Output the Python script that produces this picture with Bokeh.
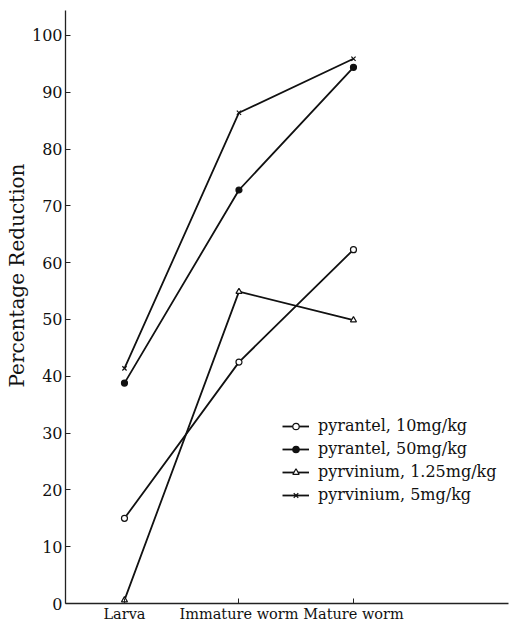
from bokeh.plotting import figure
from bokeh.models import Range1d, FixedTicker, Legend, LegendItem, Title
from bokeh.embed import file_html
from bokeh.resources import INLINE

categories = ["Larva", "Immature worm", "Mature worm"]
x_pos = [0, 1, 2]
pyrantel_10 = [15, 42.5, 62.3]
pyrantel_50 = [38.8, 72.8, 94.4]
pyrvinium_125 = [0.6, 54.9, 49.9]
pyrvinium_5 = [41.4, 86.4, 95.9]
y_ticks = [0, 10, 20, 30, 40, 50, 60, 70, 80, 90, 100]

SERIF = "DejaVu Serif"

p = figure(width=509, height=624, output_backend="svg", toolbar_location=None,
           x_range=Range1d(-0.515, 3.354), y_range=Range1d(0, 104.4),
           min_border_left=65, min_border_top=10, min_border_bottom=0, min_border_right=1)
p.outline_line_color = None
p.xgrid.visible = False
p.ygrid.visible = False
p.background_fill_color = "white"
p.border_fill_color = "white"

p.xaxis.ticker = FixedTicker(ticks=x_pos)
p.xaxis.major_label_overrides = {x: c for x, c in zip(x_pos, categories)}
p.yaxis.ticker = FixedTicker(ticks=y_ticks)
for ax in (p.xaxis, p.yaxis):
    ax.axis_line_color = "#222222"
    ax.axis_line_width = 1.3
    ax.major_tick_in = 5
    ax.major_tick_out = 0
    ax.minor_tick_line_color = None
    ax.major_tick_line_color = "#222222"
    ax.major_label_text_font = SERIF
    ax.major_label_text_color = "#111111"
p.xaxis.major_label_text_font_size = "14.5px"
p.xaxis.major_label_standoff = 2
p.yaxis.major_label_text_font_size = "16px"
p.yaxis.major_label_standoff = 3

ylab = Title(text="Percentage Reduction", align="left", offset=216,
             text_font=SERIF, text_font_size="20px", text_font_style="normal",
             text_color="#111111", standoff=0)
p.add_layout(ylab, "left")

series = [
    ("pyrantel, 10mg/kg", pyrantel_10, "circle", "white"),
    ("pyrantel, 50mg/kg", pyrantel_50, "circle", "#111111"),
    ("pyrvinium, 1.25mg/kg", pyrvinium_125, "triangle", "white"),
    ("pyrvinium, 5mg/kg", pyrvinium_5, "x", "#111111"),
]
items = []
for label, ys, marker, fill in series:
    r1 = p.line(x_pos, ys, line_color="#111111", line_width=1.8)
    r2 = p.scatter(x_pos, ys, marker=marker, size=6, line_color="#111111",
                   fill_color=fill, line_width=1.2)
    items.append(LegendItem(label=label, renderers=[r1, r2]))

legend = Legend(items=items, location=(217, 99), background_fill_alpha=0,
                border_line_color=None, label_text_font=SERIF,
                label_text_font_size="16px", label_text_color="#111111",
                glyph_width=27, glyph_height=16, spacing=4, padding=0,
                label_standoff=9)
p.add_layout(legend, "center")

open("out.html", "w").write(file_html(p, INLINE))
